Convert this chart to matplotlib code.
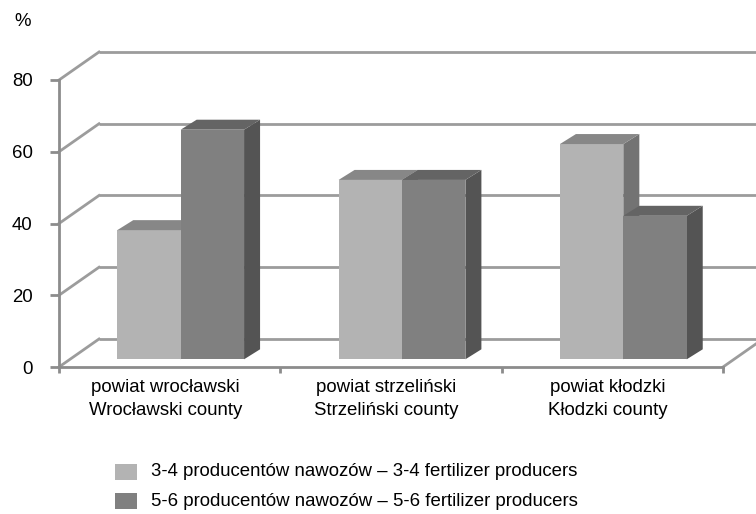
import matplotlib
matplotlib.use("Agg")
import matplotlib.pyplot as plt
from matplotlib.patches import Polygon
import matplotlib.transforms as mtransforms

plt.rcParams['font.family'] = ['Liberation Sans', 'DejaVu Sans']

# ---- data ----
categories = ["powiat wrocławski\nWrocławski county",
              "powiat strzeliński\nStrzeliński county",
              "powiat kłodzki\nKłodzki county"]
series_names = ["3-4 producentów nawozów – 3-4 fertilizer producers",
                "5-6 producentów nawozów – 5-6 fertilizer producers"]
values_34 = [36, 50, 60]
values_56 = [64, 50, 40]
y_ticks = [0, 20, 40, 60, 80]

# ---- styles ----
front_cols = ["#b3b3b3", "#808080"]
top_cols = ["#878787", "#646464"]
side_cols = ["#737373", "#545454"]
grid_col = "#9c9c9c"
axis_col = "#8c8c8c"
FS = 13.4

W, H = 756, 514
fig = plt.figure(figsize=(W / 100, H / 100), dpi=100)
ax = fig.add_axes([59 / W, (H - 367) / H, (723 - 59) / W, (367 - 80) / H])
ax.set_xlim(0, 3)
ax.set_ylim(0, 80)

px_x = (723 - 59) / 3.0      # pixels per category unit
px_y = (367 - 80) / 80.0     # pixels per value unit

# oblique depth offsets (pixels -> data units)
back_dx, back_dy = 40 / px_x, 28 / px_y
bar_sx, bar_sy = 11 / px_x, 7.7 / px_y
bar_ddx, bar_ddy = 16 / px_x, 10 / px_y
bar_w = 63.4 / px_x

# back wall gridlines and diagonals
for v in y_ticks:
    ax.plot([back_dx, 3 + back_dx], [v + back_dy, v + back_dy], color=grid_col,
            lw=2, clip_on=False, zorder=1, solid_capstyle='butt')
    ax.plot([0, back_dx], [v, v + back_dy], color=grid_col, lw=2,
            clip_on=False, zorder=1)
ax.plot([3, 3 + back_dx], [0, back_dy], color=grid_col, lw=2, clip_on=False, zorder=1)

# bars
for i in range(3):
    c = i + 0.5
    for s, vals in enumerate([values_34, values_56]):
        v = vals[i]
        x0 = c - bar_w + s * bar_w + bar_sx
        x1 = x0 + bar_w
        y0 = bar_sy
        y1 = v + bar_sy
        ax.bar([x0], [v], width=bar_w, bottom=bar_sy, align='edge',
               color=front_cols[s], linewidth=0, zorder=3 + i * 4 + s * 2,
               clip_on=False)
        ax.add_patch(Polygon([(x0, y1), (x1, y1), (x1 + bar_ddx, y1 + bar_ddy),
                              (x0 + bar_ddx, y1 + bar_ddy)], closed=True,
                             facecolor=top_cols[s], edgecolor='none',
                             zorder=3 + i * 4 + s * 2, clip_on=False))
        ax.add_patch(Polygon([(x1, y0), (x1 + bar_ddx, y0 + bar_ddy),
                              (x1 + bar_ddx, y1 + bar_ddy), (x1, y1)], closed=True,
                             facecolor=side_cols[s], edgecolor='none',
                             zorder=2 + i * 4 + s * 2, clip_on=False))

# axes
for sp in ['top', 'right']:
    ax.spines[sp].set_visible(False)
for sp in ['left', 'bottom']:
    ax.spines[sp].set_color(axis_col)
    ax.spines[sp].set_linewidth(2)
    ax.spines[sp].set_zorder(20)
ax.set_yticks(y_ticks)
ax.set_yticklabels([str(t) for t in y_ticks], fontsize=FS)
ax.tick_params(axis='y', length=6.5, width=2, color=axis_col, pad=12.5)
ax.set_xticks([0, 1, 2, 3])
ax.set_xticklabels([])
ax.tick_params(axis='x', length=4.5, width=2, color=axis_col, direction='out')

trans = mtransforms.blended_transform_factory(ax.transData, fig.transFigure)
for i, lab in enumerate(categories):
    ax.text(i + 0.5 - 0.02, (H - 379) / H, lab, transform=trans, ha='center',
            va='top', fontsize=FS, linespacing=1.45)

fig.text(23 / W, (H - 21) / H, "%", ha='center', va='center', fontsize=FS)

# legend
for s in range(2):
    yc = [472, 501][s]
    fig.patches.append(plt.Rectangle((115 / W, (H - yc - 8) / H), 22 / W, 16 / H,
                                     transform=fig.transFigure,
                                     facecolor=front_cols[s], edgecolor='none'))
    fig.text(151 / W, (H - yc) / H, series_names[s], ha='left', va='center',
             fontsize=FS)

fig.savefig("out.png", dpi=100)
